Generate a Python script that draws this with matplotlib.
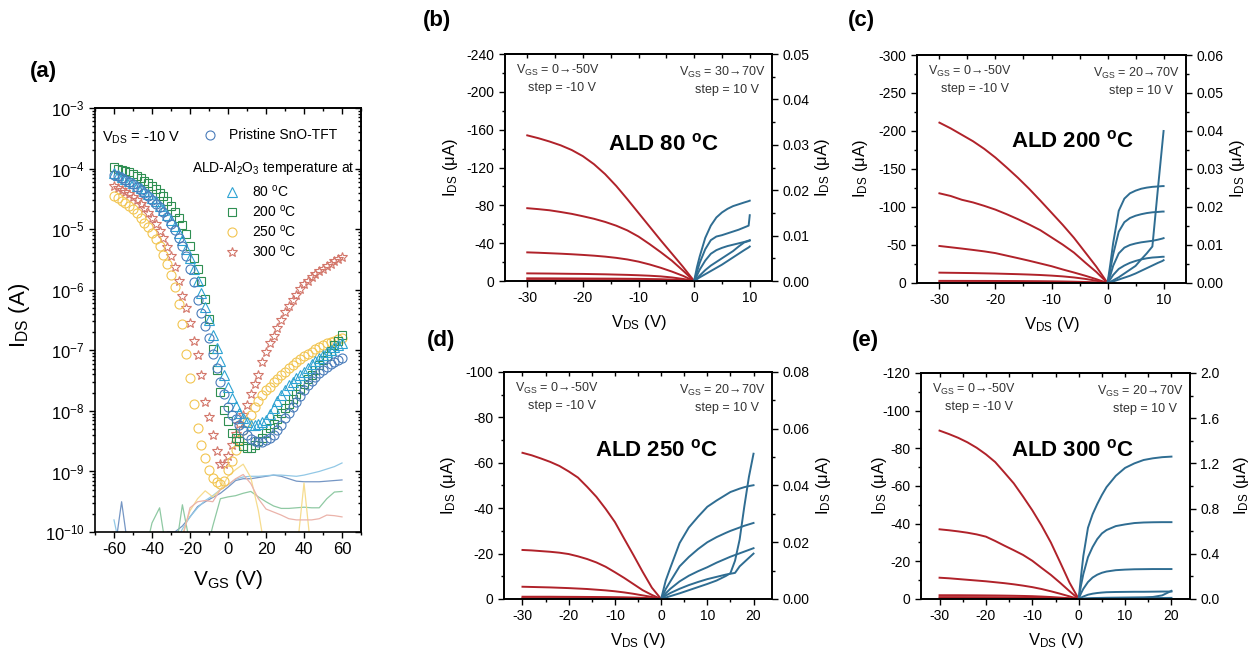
import matplotlib

matplotlib.use("Agg")
import matplotlib.pyplot as plt
import numpy as np
from matplotlib.lines import Line2D
from matplotlib.ticker import (FixedLocator, FormatStrFormatter, FuncFormatter,
                               LogLocator, MultipleLocator, NullFormatter)

plt.rcParams["font.family"] = ["Liberation Sans", "DejaVu Sans"]
plt.rcParams["mathtext.fontset"] = "custom"
plt.rcParams["mathtext.rm"] = "Liberation Sans"
plt.rcParams["mathtext.it"] = "Liberation Sans:italic"
plt.rcParams["mathtext.bf"] = "Liberation Sans:bold"
plt.rcParams["axes.unicode_minus"] = False
plt.rcParams["axes.linewidth"] = 1.2

RED = "#b0222a"
BLUE = "#2f6d92"

# ---------------- (a) transfer curves, log10(I_DS) at V_GS = -60..60 step 2
VGS = np.arange(-60, 62, 2)
log_pristine = [-4.10, -4.13, -4.16, -4.19, -4.22, -4.26, -4.30, -4.35, -4.40, -4.45,
                -4.51, -4.58, -4.64, -4.71, -4.80, -4.91, -5.02, -5.14, -5.28, -5.45,
                -5.65, -5.88, -6.17, -6.38, -6.60, -6.80, -7.06, -7.30, -7.52, -7.72,
                -7.93, -8.06, -8.14, -8.24, -8.32, -8.40, -8.46, -8.49, -8.51, -8.51,
                -8.48, -8.44, -8.39, -8.31, -8.23, -8.12, -8.03, -7.94, -7.85, -7.75,
                -7.66, -7.58, -7.51, -7.44, -7.38, -7.33, -7.28, -7.23, -7.19, -7.16, -7.13]
log_80 = [-4.08, -4.11, -4.14, -4.17, -4.20, -4.24, -4.28, -4.32, -4.37, -4.42,
          -4.48, -4.54, -4.61, -4.68, -4.76, -4.85, -4.95, -5.06, -5.18, -5.32,
          -5.48, -5.66, -5.85, -6.05, -6.28, -6.50, -6.74, -6.96, -7.18, -7.40,
          -7.60, -7.78, -7.92, -8.03, -8.12, -8.19, -8.23, -8.24, -8.22, -8.19,
          -8.15, -8.05, -7.95, -7.84, -7.74, -7.66, -7.58, -7.52, -7.46, -7.40,
          -7.35, -7.29, -7.23, -7.18, -7.13, -7.08, -7.03, -6.99, -6.95, -6.91, -6.88]
log_200 = [-3.98, -4.00, -4.02, -4.04, -4.06, -4.09, -4.12, -4.15, -4.20, -4.24,
           -4.29, -4.34, -4.40, -4.46, -4.53, -4.61, -4.71, -4.81, -4.93, -5.08,
           -5.28, -5.47, -5.65, -5.86, -6.15, -6.48, -6.98, -7.32, -7.68, -7.98,
           -8.16, -8.36, -8.44, -8.50, -8.58, -8.62, -8.61, -8.56, -8.50, -8.44,
           -8.37, -8.29, -8.21, -8.13, -8.04, -7.96, -7.88, -7.80, -7.72, -7.64,
           -7.56, -7.48, -7.40, -7.32, -7.24, -7.16, -7.09, -7.01, -6.92, -6.84, -6.75]
log_250 = [-4.46, -4.49, -4.53, -4.57, -4.61, -4.67, -4.74, -4.81, -4.89, -4.97,
           -5.06, -5.16, -5.28, -5.42, -5.58, -5.76, -5.96, -6.24, -6.56, -7.06,
           -7.45, -7.88, -8.28, -8.56, -8.78, -8.98, -9.10, -9.17, -9.20, -9.15,
           -8.98, -8.82, -8.64, -8.48, -8.31, -8.18, -8.06, -7.93, -7.83, -7.74,
           -7.66, -7.60, -7.53, -7.47, -7.41, -7.35, -7.29, -7.24, -7.19, -7.14,
           -7.10, -7.06, -7.02, -6.98, -6.95, -6.91, -6.88, -6.86, -6.84, -6.82, -6.80]
log_300 = [-4.29, -4.32, -4.35, -4.38, -4.42, -4.47, -4.52, -4.58, -4.65, -4.73,
           -4.82, -4.92, -5.03, -5.15, -5.29, -5.44, -5.62, -5.85, -6.10, -6.30,
           -6.55, -6.85, -7.08, -7.40, -7.85, -8.10, -8.40, -8.66, -8.88, -8.88,
           -8.74, -8.56, -8.38, -8.22, -8.06, -7.91, -7.72, -7.56, -7.40, -7.20,
           -7.02, -6.88, -6.76, -6.63, -6.50, -6.37, -6.27, -6.17, -6.08, -5.99,
           -5.91, -5.85, -5.79, -5.74, -5.69, -5.65, -5.61, -5.57, -5.53, -5.49, -5.46]

# gate leakage (thin lines), log10 at V_GS = -60..60 step 4; -10.4 = below axis
VGS_LEAK = np.arange(-60, 62, 4)
leak_pristine = [-10.4, -9.5, -10.4, -10.4, -10.4, -10.1, -10.4, -10.0, -10.0, -9.9, -9.75,
                 -9.58, -9.5, -9.43, -9.36, -9.26, -9.15, -9.12, -9.12, -9.1, -9.08, -9.06,
                 -9.08, -9.12, -9.16, -9.17, -9.17, -9.17, -9.16, -9.15, -9.14]
leak_80 = [-9.8, -10.4, -10.4, -10.4, -10.4, -10.4, -10.4, -10.4, -10.2, -9.95, -9.75,
           -9.6, -9.48, -9.4, -9.3, -9.22, -9.13, -9.09, -9.08, -9.08, -9.07, -9.06,
           -9.06, -9.07, -9.08, -9.06, -9.03, -9.0, -8.96, -8.92, -8.86]
leak_200 = [-10.4, -10.4, -10.4, -10.4, -10.4, -9.85, -9.6, -10.4, -10.4, -9.55, -10.2,
            -10.4, -10.4, -9.9, -9.45, -9.42, -9.4, -9.36, -9.33, -9.42, -9.5, -9.57,
            -9.61, -9.61, -9.6, -9.59, -9.6, -9.6, -9.45, -9.34, -9.33]
leak_250 = [-10.4, -10.4, -10.4, -10.4, -10.4, -10.4, -10.4, -10.4, -10.4, -10.05, -9.65,
            -9.45, -9.32, -9.42, -9.3, -9.08, -8.97, -8.88, -9.1, -9.65, -10.4, -10.4,
            -10.4, -10.4, -10.4, -9.19, -10.4, -10.4, -10.4, -10.4, -10.4]
leak_300 = [-10.4, -10.4, -10.4, -10.4, -10.4, -10.4, -10.4, -10.4, -10.4, -10.1, -9.6,
            -9.5, -9.48, -9.5, -9.3, -9.22, -9.12, -9.05, -9.2, -9.45, -9.62, -9.67,
            -9.72, -9.78, -9.8, -9.8, -9.8, -9.78, -9.72, -9.73, -9.75]

# ---------------- output curves (uA); red: V_GS = -50..0, blue: V_GS = 70..20
VD_NEG = [0, -2, -4, -6, -8, -10, -12, -14, -16, -18, -20, -22, -24, -26, -28, -30]
VD_POS_B = [0, 0.5, 1, 2, 3, 4, 5, 6, 7, 8, 9, 9.8, 10]
VD_POS_D = [0, 1, 2, 4, 6, 8, 10, 12, 14, 15, 16, 17, 18, 19, 20]
VD_POS_E = [0, 0.5, 1, 2, 3, 4, 5, 6, 8, 10, 12, 14, 16, 18, 20]

b_red = [
    [0, -15, -29, -43, -57.5, -72, -86.5, -100.5, -113, -123.5, -132, -138.5, -143.5, -147.5, -151, -154],
    [0, -11, -21.5, -30.5, -39, -47, -53.5, -58.5, -62.5, -65.8, -68.5, -71, -73, -74.8, -76, -77],
    [0, -5.5, -10, -14, -17.5, -20.5, -22.8, -24.5, -25.8, -26.8, -27.6, -28.3, -28.9, -29.4, -29.9, -30.3],
    [0, -2.2, -3.8, -4.9, -5.6, -6.1, -6.5, -6.8, -7.1, -7.3, -7.5, -7.6, -7.75, -7.9, -8.0, -8.1],
    [0, -0.9, -1.5, -1.9, -2.1, -2.3, -2.4, -2.5, -2.55, -2.6, -2.65, -2.7, -2.75, -2.8, -2.82, -2.85],
    [0, -0.35, -0.55, -0.7, -0.8, -0.85, -0.88, -0.9, -0.93, -0.95, -0.97, -1.0, -1.0, -1.0, -1.0, -1.0],
]
b_blue = [
    [0, 0.0030, 0.0054, 0.0095, 0.0122, 0.0140, 0.0151, 0.0159, 0.0165, 0.0169, 0.0173, 0.0176, 0.0177],
    [0, 0.0020, 0.0040, 0.0070, 0.0090, 0.0098, 0.0101, 0.0105, 0.0109, 0.0113, 0.0118, 0.0122, 0.0145],
    [0, 0.0012, 0.0025, 0.0045, 0.0060, 0.0068, 0.0073, 0.0077, 0.0080, 0.0083, 0.0086, 0.0089, 0.0090],
    [0, 0.0006, 0.0012, 0.0024, 0.0034, 0.0042, 0.0050, 0.0058, 0.0066, 0.0076, 0.0085, 0.0088, 0.0089],
    [0, 0.0004, 0.0008, 0.0015, 0.0022, 0.0029, 0.0036, 0.0044, 0.0052, 0.0060, 0.0068, 0.0074, 0.0076],
]
c_red = [
    [0, -21.5, -40.5, -59.5, -76.5, -92.5, -108.5, -124, -138.5, -152, -165, -176.5, -186.5, -195, -203.5, -211],
    [0, -14.5, -27, -40, -50.5, -60, -69.5, -77, -84, -90.5, -96.5, -101.5, -106, -109.5, -114.5, -118],
    [0, -5, -9.6, -13.8, -17.8, -22.1, -25.7, -29.3, -32.7, -36, -39.3, -41.6, -43.5, -45.3, -47, -48.7],
    [0, -3, -5.4, -7.3, -8.7, -9.7, -10.5, -11.1, -11.6, -12, -12.4, -12.7, -13, -13.2, -13.4, -13.6],
    [0, -0.8, -1.3, -1.7, -2.0, -2.2, -2.35, -2.45, -2.55, -2.6, -2.65, -2.7, -2.72, -2.75, -2.78, -2.8],
    [0, -0.3, -0.45, -0.55, -0.63, -0.68, -0.72, -0.75, -0.77, -0.78, -0.79, -0.8, -0.8, -0.8, -0.8, -0.8],
]
c_blue = [
    [0, 0.005, 0.0105, 0.019, 0.0222, 0.0236, 0.0243, 0.0248, 0.0251, 0.0253, 0.0254, 0.0255, 0.0255],
    [0, 0.0035, 0.0075, 0.0135, 0.016, 0.0171, 0.0177, 0.0181, 0.0184, 0.0186, 0.0187, 0.0188, 0.0188],
    [0, 0.002, 0.0045, 0.0078, 0.0093, 0.0100, 0.0104, 0.0107, 0.0109, 0.0111, 0.0114, 0.0117, 0.0118],
    [0, 0.001, 0.0021, 0.0037, 0.0046, 0.0053, 0.0058, 0.0062, 0.0065, 0.0067, 0.0068, 0.0069, 0.0069],
    [0, 0.0002, 0.0004, 0.0009, 0.0014, 0.0019, 0.0025, 0.0032, 0.0039, 0.0046, 0.0053, 0.0058, 0.0060],
    [0, 0.0003, 0.0007, 0.0015, 0.0025, 0.0035, 0.0045, 0.0062, 0.0078, 0.0096, 0.0250, 0.0370, 0.0400],
]
d_red = [
    [0, -5.0, -12.0, -19.4, -26.6, -33.9, -39.7, -45, -49.4, -53.5, -56.2, -58.6, -60.4, -61.9, -63.3, -64.4],
    [0, -1.8, -3.9, -6.6, -9.3, -11.8, -14.2, -16.1, -17.6, -18.8, -19.8, -20.4, -20.8, -21.1, -21.4, -21.6],
    [0, -0.9, -1.6, -2.3, -2.9, -3.4, -3.8, -4.1, -4.4, -4.6, -4.8, -4.95, -5.1, -5.2, -5.3, -5.4],
    [0, -0.3, -0.5, -0.65, -0.75, -0.8, -0.85, -0.88, -0.9, -0.93, -0.95, -0.97, -1.0, -1.0, -1.0, -1.0],
    [0, -0.1, -0.18, -0.24, -0.28, -0.3, -0.32, -0.33, -0.34, -0.34, -0.35, -0.35, -0.35, -0.35, -0.35, -0.35],
    [0, -0.04, -0.06, -0.08, -0.09, -0.1, -0.1, -0.1, -0.1, -0.1, -0.1, -0.1, -0.1, -0.1, -0.1, -0.1],
]
d_blue = [
    [0, 0.0065, 0.011, 0.0197, 0.0252, 0.029, 0.0325, 0.0347, 0.0367, 0.0377, 0.0383, 0.0389, 0.0394, 0.0398, 0.0401],
    [0, 0.0035, 0.0062, 0.0115, 0.0148, 0.0176, 0.0200, 0.0218, 0.0233, 0.0240, 0.0246, 0.0252, 0.0258, 0.0263, 0.0268],
    [0, 0.002, 0.0036, 0.0062, 0.0082, 0.0098, 0.0112, 0.0128, 0.0142, 0.0149, 0.0155, 0.0161, 0.0167, 0.0173, 0.0179],
    [0, 0.0012, 0.0021, 0.0036, 0.0049, 0.0060, 0.0070, 0.0078, 0.0086, 0.0089, 0.0092, 0.0115, 0.0130, 0.0145, 0.0160],
    [0, 0.0005, 0.001, 0.002, 0.0031, 0.0042, 0.0053, 0.0065, 0.0081, 0.0091, 0.0135, 0.0210, 0.0325, 0.0430, 0.0512],
]
e_red = [
    [0, -8.8, -19.5, -30, -39, -47.1, -54.4, -61.4, -67.1, -72.7, -76.8, -80.3, -83.2, -85.6, -87.6, -89.4],
    [0, -4.2, -8.6, -12.8, -16.5, -20.3, -23.4, -25.9, -28.3, -30.8, -33.1, -34.3, -35.2, -35.9, -36.5, -37],
    [0, -1.4, -2.8, -4.1, -5.3, -6.3, -7.1, -7.8, -8.4, -8.9, -9.4, -9.8, -10.2, -10.6, -11, -11.3],
    [0, -0.4, -0.75, -1.05, -1.3, -1.5, -1.62, -1.72, -1.8, -1.86, -1.9, -1.94, -1.97, -2.0, -2.0, -2.0],
    [0, -0.2, -0.38, -0.52, -0.64, -0.74, -0.8, -0.85, -0.9, -0.93, -0.95, -0.97, -0.98, -1.0, -1.0, -1.0],
    [0, -0.06, -0.11, -0.15, -0.18, -0.2, -0.22, -0.24, -0.25, -0.26, -0.27, -0.28, -0.29, -0.29, -0.3, -0.3],
]
e_blue = [
    [0, 0.2, 0.38, 0.63, 0.75, 0.84, 0.92, 0.99, 1.09, 1.16, 1.20, 1.23, 1.245, 1.255, 1.26],
    [0, 0.12, 0.22, 0.37, 0.46, 0.53, 0.58, 0.61, 0.645, 0.66, 0.672, 0.677, 0.679, 0.68, 0.68],
    [0, 0.05, 0.09, 0.15, 0.19, 0.215, 0.232, 0.243, 0.255, 0.26, 0.263, 0.264, 0.265, 0.265, 0.265],
    [0, 0.012, 0.022, 0.038, 0.047, 0.053, 0.057, 0.06, 0.062, 0.063, 0.064, 0.064, 0.065, 0.066, 0.066],
    [0, 0.002, 0.004, 0.006, 0.008, 0.009, 0.01, 0.011, 0.012, 0.013, 0.014, 0.015, 0.018, 0.032, 0.072],
    [0, 0.001, 0.002, 0.003, 0.004, 0.005, 0.005, 0.006, 0.006, 0.007, 0.007, 0.008, 0.008, 0.009, 0.01],
]

fig = plt.figure(figsize=(12.5, 6.54), dpi=100)

# ================= (a)
ax = fig.add_axes([0.076, 0.1865, 0.2128, 0.6483])
ax.set_yscale("log")
leak = [(leak_pristine, "#7596c4"), (leak_80, "#92c8e6"), (leak_200, "#8fc9a3"),
        (leak_250, "#f6dc8e"), (leak_300, "#ebb3aa")]
for vals, col in leak:
    ax.plot(VGS_LEAK, 10.0 ** np.array(vals), color=col, lw=0.9, zorder=1)

series = [
    (log_300, "*", "#d3776b", 7.5, r"300 $^{\rm o}$C"),
    (log_250, "o", "#f2c550", 6.5, r"250 $^{\rm o}$C"),
    (log_200, "s", "#2f8f52", 6.0, r"200 $^{\rm o}$C"),
    (log_80, "^", "#2ea3d3", 6.5, r"80 $^{\rm o}$C"),
    (log_pristine, "o", "#4a7cba", 6.5, "Pristine SnO-TFT"),
]
handles = {}
for vals, mk, col, ms, lab in series:
    ax.plot(VGS, 10.0 ** np.array(vals), ls="none", marker=mk, mfc="none", mec=col,
            ms=ms, mew=0.8, zorder=2)
    handles[lab] = Line2D([], [], ls="none", marker=mk, mfc="none", mec=col, ms=ms, mew=0.8)

ax.set_xlim(-70, 70)
ax.set_ylim(1e-10, 1e-3)
ax.xaxis.set_major_locator(MultipleLocator(20))
ax.xaxis.set_minor_locator(MultipleLocator(10))
ax.yaxis.set_major_locator(FixedLocator([10.0 ** e for e in range(-10, -2)]))
ax.yaxis.set_major_formatter(FuncFormatter(lambda v, p: r"10$^{%d}$" % round(np.log10(v))))
ax.yaxis.set_minor_locator(LogLocator(base=10, subs=np.arange(2, 10), numticks=20))
ax.yaxis.set_minor_formatter(NullFormatter())
ax.tick_params(which="both", direction="out", labelsize=12, width=1.0)
ax.tick_params(which="major", length=4)
ax.tick_params(which="minor", length=2)
sx = ax.secondary_xaxis("top")
sx.xaxis.set_major_locator(MultipleLocator(20))
sx.xaxis.set_minor_locator(MultipleLocator(10))
sx.tick_params(which="both", direction="in", labeltop=False, width=1.0)
sx.tick_params(which="major", length=4)
sx.tick_params(which="minor", length=2)
sy = ax.secondary_yaxis("right")
sy.yaxis.set_major_locator(FixedLocator([10.0 ** e for e in range(-10, -2)]))
sy.yaxis.set_minor_locator(LogLocator(base=10, subs=np.arange(2, 10), numticks=20))
sy.tick_params(which="both", direction="in", labelright=False, width=1.0)
sy.tick_params(which="major", length=4)
sy.tick_params(which="minor", length=2)

ax.set_xlabel(r"V$_{\rm GS}$ (V)", fontsize=15)
ax.xaxis.set_label_coords(0.5, -0.085)
ax.set_ylabel(r"I$_{\rm DS}$ (A)", fontsize=16)
ax.yaxis.set_label_coords(-0.235, 0.51)

ax.text(0.025, 0.929, r"V$_{\rm DS}$ = -10 V", transform=ax.transAxes, fontsize=10.5,
        ha="left", va="center")
leg1 = ax.legend(handles=[handles["Pristine SnO-TFT"]], labels=["Pristine SnO-TFT"],
                 loc="upper left", bbox_to_anchor=(0.405, 0.952), frameon=False,
                 fontsize=10, borderpad=0, borderaxespad=0, handlelength=1.0,
                 handletextpad=0.9)
ax.add_artist(leg1)
ax.text(0.365, 0.858, r"ALD-Al$_2$O$_3$ temperature at", transform=ax.transAxes,
        fontsize=10, ha="left", va="center")
temp_labels = [r"80 $^{\rm o}$C", r"200 $^{\rm o}$C", r"250 $^{\rm o}$C", r"300 $^{\rm o}$C"]
ax.legend(handles=[handles[t] for t in temp_labels], labels=temp_labels,
          loc="upper left", bbox_to_anchor=(0.49, 0.822), frameon=False, fontsize=10,
          borderpad=0, borderaxespad=0, handlelength=1.0, handletextpad=0.9,
          labelspacing=0.3)

fig.text(0.024, 0.891, "(a)", fontsize=16, fontweight="bold", va="center")


# ================= (b)-(e)
def output_panel(rect, vpos, red, blue, lmax, lstep, rmax, rstep, rfmt, xmax, ann_right, title,
                 ylab_x, title_xy):
    ax = fig.add_axes(rect)
    for ys in red:
        ax.plot(VD_NEG, ys, color=RED, lw=1.4)
    ax.set_xlim(-34, xmax)
    ax.set_ylim(0, -lmax)
    ax.xaxis.set_major_locator(MultipleLocator(10))
    ax.xaxis.set_minor_locator(MultipleLocator(5))
    ax.yaxis.set_major_locator(MultipleLocator(lstep))
    ax.yaxis.set_minor_locator(MultipleLocator(lstep / 2))
    ax.yaxis.set_major_formatter(FuncFormatter(lambda v, p: "%d" % round(v)))
    ax.tick_params(which="both", direction="out", labelsize=10, width=1.0)
    ax.tick_params(which="major", length=4)
    ax.tick_params(which="minor", length=2)
    top = ax.secondary_xaxis("top")
    top.xaxis.set_major_locator(MultipleLocator(5))
    top.tick_params(direction="in", labeltop=False, length=3, width=1.0)

    tw = ax.twinx()
    for ys in blue:
        tw.plot(vpos, ys, color=BLUE, lw=1.4)
    tw.set_ylim(0, rmax)
    tw.yaxis.set_major_locator(MultipleLocator(rstep))
    tw.yaxis.set_minor_locator(MultipleLocator(rstep / 2))
    tw.yaxis.set_major_formatter(FormatStrFormatter(rfmt))
    tw.tick_params(which="both", direction="out", labelsize=10, width=1.0)
    tw.tick_params(which="major", length=4)
    tw.tick_params(which="minor", length=2)

    ax.set_xlabel(r"V$_{\rm DS}$ (V)", fontsize=12)
    ax.xaxis.set_label_coords(0.5, -0.14)
    ax.set_ylabel(r"I$_{\rm DS}$ (μA)", fontsize=12)
    ax.yaxis.set_label_coords(ylab_x, 0.5)
    tw.set_ylabel(r"I$_{\rm DS}$ (μA)", fontsize=12)
    tw.yaxis.set_label_coords(1.155, 0.5)

    kw = dict(transform=ax.transAxes, fontsize=9, color="#333333", va="center")
    ax.text(0.04, 0.928, r"V$_{\rm GS}$ = 0→-50V", ha="left", **kw)
    ax.text(0.088, 0.85, "step = -10 V", ha="left", **kw)
    ax.text(0.975, 0.92, r"V$_{\rm GS}$ = " + ann_right, ha="right", **kw)
    ax.text(0.952, 0.84, "step = 10 V", ha="right", **kw)
    ax.text(title_xy[0], title_xy[1], title, transform=ax.transAxes, fontsize=16,
            fontweight="bold", ha="left", va="center")
    return ax


output_panel([0.404, 0.5703, 0.2136, 0.3471], VD_POS_B, b_red, b_blue, 240, 40, 0.05, 0.01,
             "%.2f", 14, "30→70V", r"ALD 80 $^{\mathbf{o}}$C", -0.17, (0.386, 0.604))
output_panel([0.7336, 0.5673, 0.2152, 0.3486], VD_POS_B, c_red, c_blue, 300, 50, 0.06, 0.01,
             "%.2f", 14, "20→70V", r"ALD 200 $^{\mathbf{o}}$C", -0.175, (0.349, 0.62))
output_panel([0.4032, 0.0841, 0.2144, 0.3471], VD_POS_D, d_red, d_blue, 100, 20, 0.08, 0.02,
             "%.2f", 24, "20→70V", r"ALD 250 $^{\mathbf{o}}$C", -0.17, (0.34, 0.656))
output_panel([0.7368, 0.0841, 0.2152, 0.3456], VD_POS_E, e_red, e_blue, 120, 20, 2.0, 0.4,
             "%.1f", 24, "20→70V", r"ALD 300 $^{\mathbf{o}}$C", -0.12, (0.335, 0.656))

fig.text(0.338, 0.969, "(b)", fontsize=16, fontweight="bold", va="center")
fig.text(0.678, 0.969, "(c)", fontsize=16, fontweight="bold", va="center")
fig.text(0.3416, 0.48, "(d)", fontsize=16, fontweight="bold", va="center")
fig.text(0.6816, 0.48, "(e)", fontsize=16, fontweight="bold", va="center")

fig.savefig("out.png", dpi=100)
